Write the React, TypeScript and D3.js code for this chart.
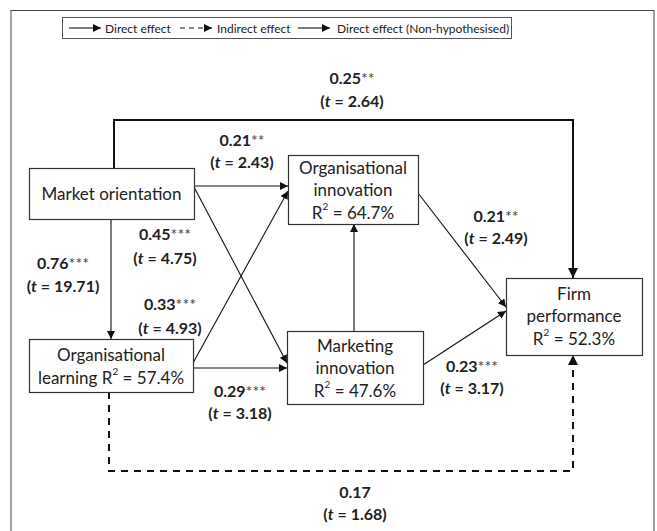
import React, { useEffect, useRef } from 'react';
import * as d3 from 'd3';

// constructs shown in the model
const nodeIds = ['mo', 'oi', 'ol', 'mi', 'fp'];
const nodeLines = [
  ['Market orientation'],
  ['Organisational', 'innovation', 'R2 = 64.7%'],
  ['Organisational', 'learning R2 = 57.4%'],
  ['Marketing', 'innovation', 'R2 = 47.6%'],
  ['Firm', 'performance', 'R2 = 52.3%'],
];

// path coefficients
const edgeFrom = ['mo', 'mo', 'mo', 'ol', 'ol', 'mi', 'oi', 'mi', 'mo', 'ol'];
const edgeTo = ['oi', 'mi', 'ol', 'oi', 'mi', 'oi', 'fp', 'fp', 'fp', 'fp'];
const edgeBeta = ['0.21', '0.45', '0.76', '0.33', '0.29', '', '0.21', '0.23', '0.25', '0.17'];
const edgeStars = ['**', '***', '***', '***', '***', '', '**', '***', '**', ''];
const edgeT = ['2.43', '4.75', '19.71', '4.93', '3.18', '', '2.49', '3.17', '2.64', '1.68'];
const edgeKind = ['direct', 'direct', 'direct', 'direct', 'direct', 'direct', 'direct', 'direct', 'nonhyp', 'indirect'];

const legendLabels = ['Direct effect', 'Indirect effect', 'Direct effect (Non-hypothesised)'];
const legendKinds = ['direct', 'indirect', 'nonhyp'];

const W = 657;
const H = 531;
const FONT = 'Lato, "Open Sans", sans-serif';

// box geometry (layout, not data)
const boxes: Record<string, { x0: number; y0: number; x1: number; y1: number; ly: number[] }> = {
  mo: { x0: 29, y0: 168, x1: 194, y1: 219, ly: [193] },
  oi: { x0: 288, y0: 155, x1: 418, y1: 224, ly: [167, 189.5, 212] },
  ol: { x0: 29, y0: 339, x1: 193, y1: 392, ly: [354, 377] },
  mi: { x0: 287, y0: 331, x1: 423, y1: 404, ly: [345, 367.5, 390] },
  fp: { x0: 506, y0: 278, x1: 642, y1: 355, ly: [293, 315.5, 338] },
};

// routing of each edge and where its label sits
const routes: [number, number][][] = [
  [[194, 186], [288, 186]],
  [[194, 187], [287, 363]],
  [[111, 219], [111, 339]],
  [[193, 363], [288, 191]],
  [[193, 368], [287, 368]],
  [[354, 331], [354, 224]],
  [[418, 193], [506, 307]],
  [[423, 365], [506, 311]],
  [[114, 168], [114, 120], [573, 120], [573, 278]],
  [[109, 392], [109, 471], [573, 471], [573, 355]],
];
const labelPos: [number, number, number][] = [
  [242, 139, 161],
  [165, 233, 257],
  [63, 262, 285],
  [170, 303, 327],
  [240, 390, 412],
  [0, 0, 0],
  [496, 215, 237],
  [472, 365, 387],
  [352, 77, 100],
  [355, 491, 513],
];

const strokeOf = (k: string) => (k === 'direct' ? 1.1 : 2);

const App = () => {
  const ref = useRef<SVGSVGElement>(null);

  useEffect(() => {
    if (!ref.current) return;
    const svg = d3.select(ref.current);
    svg.selectAll('*').remove();

    const defs = svg.append('defs');
    ['thin', 'thick'].forEach((m) => {
      defs.append('marker')
        .attr('id', 'arr-' + m)
        .attr('viewBox', '0 0 10 10')
        .attr('refX', 10)
        .attr('refY', 5)
        .attr('markerUnits', 'userSpaceOnUse')
        .attr('markerWidth', m === 'thin' ? 8 : 10)
        .attr('markerHeight', m === 'thin' ? 8 : 10)
        .attr('orient', 'auto')
        .append('path')
        .attr('d', 'M0,0 L10,5 L0,10 Z')
        .attr('fill', '#111');
    });

    svg.append('rect')
      .attr('width', W).attr('height', H).attr('fill', 'white');

    // outer frame
    svg.append('rect')
      .attr('x', 11).attr('y', 10.5)
      .attr('width', 643).attr('height', 540)
      .attr('fill', 'none').attr('stroke', '#444').attr('stroke-width', 1);

    // legend
    const lg = svg.append('g');
    lg.append('rect')
      .attr('x', 62.5).attr('y', 17.5).attr('width', 449).attr('height', 21)
      .attr('fill', 'white').attr('stroke', '#555').attr('stroke-width', 1);
    const lx = [69, 180, 298];
    const tx = [105, 217, 337];
    legendLabels.forEach((lab, i) => {
      const k = legendKinds[i];
      lg.append('line')
        .attr('x1', lx[i]).attr('x2', lx[i] + 32).attr('y1', 28).attr('y2', 28)
        .attr('stroke', '#111').attr('stroke-width', 1.1)
        .attr('stroke-dasharray', k === 'indirect' ? '5,4' : null)
        .attr('marker-end', 'url(#arr-thin)');
      lg.append('text')
        .attr('x', tx[i]).attr('y', 28)
        .attr('dominant-baseline', 'central')
        .style('font-family', FONT).style('font-size', '12px').style('fill', '#222')
        .text(lab);
    });

    // edges
    const line = d3.line<[number, number]>().x((d) => d[0]).y((d) => d[1]).curve(d3.curveLinear);
    routes.forEach((pts, i) => {
      const k = edgeKind[i];
      svg.append('path')
        .attr('d', line(pts))
        .attr('fill', 'none')
        .attr('stroke', '#111')
        .attr('stroke-width', strokeOf(k))
        .attr('stroke-dasharray', k === 'indirect' ? '7,6' : null)
        .attr('marker-end', k === 'direct' ? 'url(#arr-thin)' : 'url(#arr-thick)');
    });

    // boxes
    nodeIds.forEach((id, i) => {
      const b = boxes[id];
      const g = svg.append('g');
      g.append('rect')
        .attr('x', b.x0 + 0.5).attr('y', b.y0 + 0.5)
        .attr('width', b.x1 - b.x0).attr('height', b.y1 - b.y0)
        .attr('fill', 'white').attr('stroke', '#333').attr('stroke-width', 1.2);
      nodeLines[i].forEach((ln, j) => {
        const t = g.append('text')
          .attr('x', (b.x0 + b.x1) / 2).attr('y', b.ly[j])
          .attr('text-anchor', 'middle').attr('dominant-baseline', 'central')
          .style('font-family', FONT).style('font-size', '17px').style('fill', '#222');
        const parts = ln.split('R2');
        if (parts.length === 1) {
          t.text(ln);
        } else {
          t.append('tspan').text(parts[0] + 'R');
          t.append('tspan').attr('dy', -6).style('font-size', '10px').text('2');
          t.append('tspan').attr('dy', 6).text(parts[1]);
        }
      });
    });

    // coefficient labels
    edgeBeta.forEach((beta, i) => {
      if (!beta) return;
      const [cx, y1, y2] = labelPos[i];
      const t1 = svg.append('text')
        .attr('x', cx).attr('y', y1)
        .attr('text-anchor', 'middle').attr('dominant-baseline', 'central')
        .style('font-family', FONT).style('font-size', '16px').style('fill', '#222');
      t1.append('tspan').style('font-weight', 'bold').text(beta);
      if (edgeStars[i]) t1.append('tspan').style('fill', '#444').text(edgeStars[i]);
      const t2 = svg.append('text')
        .attr('x', cx).attr('y', y2)
        .attr('text-anchor', 'middle').attr('dominant-baseline', 'central')
        .style('font-family', FONT).style('font-size', '16px')
        .style('font-weight', 'bold').style('fill', '#222');
      t2.append('tspan').text('(');
      t2.append('tspan').style('font-style', 'italic').text('t');
      t2.append('tspan').text(' = ' + edgeT[i] + ')');
    });
  }, []);

  return (
    <svg
      ref={ref}
      width={W}
      height={H}
      style={{ position: 'absolute', left: 0, top: 0, display: 'block' }}
    />
  );
};

export default App;
